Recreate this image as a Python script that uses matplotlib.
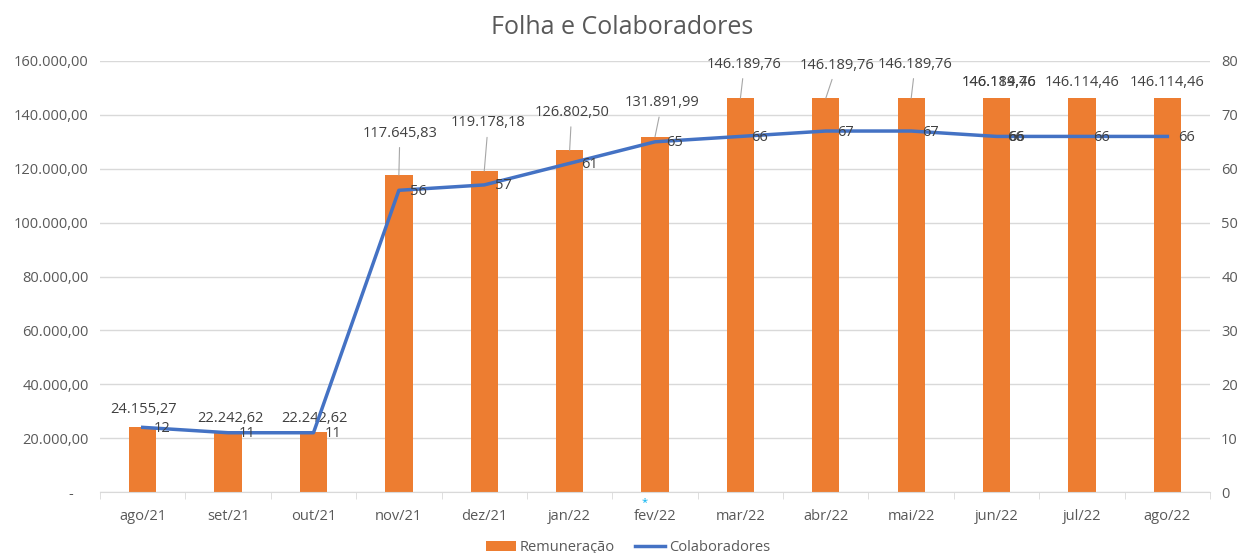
import numpy as np
import matplotlib.pyplot as plt

plt.rcParams['font.family'] = ['Open Sans', 'DejaVu Sans']

meses = ['ago/21', 'set/21', 'out/21', 'nov/21', 'dez/21', 'jan/22', 'fev/22',
         'mar/22', 'abr/22', 'mai/22', 'jun/22', 'jul/22', 'ago/22']
remuneracao = [24155.27, 22242.62, 22242.62, 117645.83, 119178.18, 126802.50, 131891.99,
               146189.76, 146189.76, 146189.76, 146114.46, 146114.46, 146114.46]
colaboradores = [12, 11, 11, 56, 57, 61, 65, 66, 67, 67, 66, 66, 66]

# deslocamento dos rotulos das barras (pixels) e se tem linha de chamada
rot_dx = [1, 2, 1, 1, 4, 2, 7, 4, 11, 4, 2, 0, 0]
rot_dy = [17, 14, 14, 42, 48, 38, 34, 34, 33, 34, 16, 16, 16]
chamada = [False, False, False, True, True, True, True, True, True, True, False, False, False]

def br(v):
    s = '{:,.2f}'.format(v)
    return s.replace(',', 'X').replace('.', ',').replace('X', '.')

fig = plt.figure(figsize=(12.44, 5.53), dpi=100)
ax1 = fig.add_axes([0.0804, 0.1103, 0.8923, 0.7794])
ax2 = ax1.twinx()

x = np.arange(len(meses))
bars = ax1.bar(x, remuneracao, width=0.32, color='#ED7D31', label='Remuneração', zorder=2)
ax1.set_ylim(0, 160000)
ax1.set_xlim(-0.5, 12.5)
ax1.set_yticks(np.arange(0, 160001, 20000))
ax1.set_yticklabels(['-    '] + [br(v) for v in np.arange(20000, 160001, 20000)])
ax1.grid(axis='y', color='#D9D9D9', linewidth=1, zorder=0)
ax1.set_axisbelow(True)
ax1.set_xticks(x)
ax1.set_xticklabels(meses)
ax1.set_xticks(np.arange(-0.5, 12.6, 1), minor=True)
ax1.tick_params(axis='x', which='major', length=0, pad=12)
ax1.tick_params(axis='x', which='minor', length=5, color='#D9D9D9')
ax1.tick_params(axis='y', length=0, pad=8)
for s in ['top', 'right', 'left']:
    ax1.spines[s].set_visible(False)
    ax2.spines[s].set_visible(False)
ax1.spines['bottom'].set_color('#D9D9D9')
ax2.spines['bottom'].set_visible(False)

for i, v in enumerate(remuneracao):
    if chamada[i]:
        ax1.annotate(br(v), xy=(i, v), xytext=(rot_dx[i], rot_dy[i]), textcoords='offset pixels',
                     ha='center', va='center', fontsize=10.5, color='#404040',
                     arrowprops=dict(arrowstyle='-', color='#A6A6A6', lw=0.8, shrinkA=3, shrinkB=0))
    else:
        ax1.annotate(br(v), xy=(i, v), xytext=(rot_dx[i], rot_dy[i]), textcoords='offset pixels',
                     ha='center', va='center', fontsize=10.5, color='#404040')
# rotulo sobreposto em jun/22
ax1.annotate(br(remuneracao[9]), xy=(10, remuneracao[10]), xytext=(rot_dx[10], rot_dy[10]),
             textcoords='offset pixels', ha='center', va='center', fontsize=10.5, color='#404040')

ln, = ax2.plot(x, colaboradores, color='#4472C4', linewidth=2.5, label='Colaboradores', zorder=3)
ax2.set_ylim(0, 80)
ax2.set_yticks(np.arange(0, 81, 10))
ax2.tick_params(axis='y', length=0, pad=8)
for i, v in enumerate(colaboradores):
    ax2.annotate(str(v), xy=(i, v), xytext=(11, -1), textcoords='offset pixels',
                 ha='left', va='center', fontsize=10.5, color='#404040')
ax2.annotate(str(colaboradores[10]), xy=(10, colaboradores[10]), xytext=(11.5, -1),
             textcoords='offset pixels', ha='left', va='center', fontsize=10.5, color='#404040')

for a in (ax1, ax2):
    for lab in a.get_yticklabels() + a.get_xticklabels():
        lab.set_color('#595959')
        lab.set_fontsize(10.5)

ax1.annotate('*', xy=(6, 0), xytext=(-10, -5), textcoords='offset pixels',
             ha='center', va='top', color='#00B0F0', fontsize=8)

fig.suptitle('Folha e Colaboradores', y=0.972, fontsize=18, color='#595959')
fig.legend(handles=[bars, ln], loc='lower center', ncol=2, frameon=False,
           bbox_to_anchor=(0.505, -0.027), fontsize=10.5, handlelength=2.0,
           labelcolor='#595959', columnspacing=1.4, handletextpad=0.3)

fig.savefig('out.png', dpi=100)
